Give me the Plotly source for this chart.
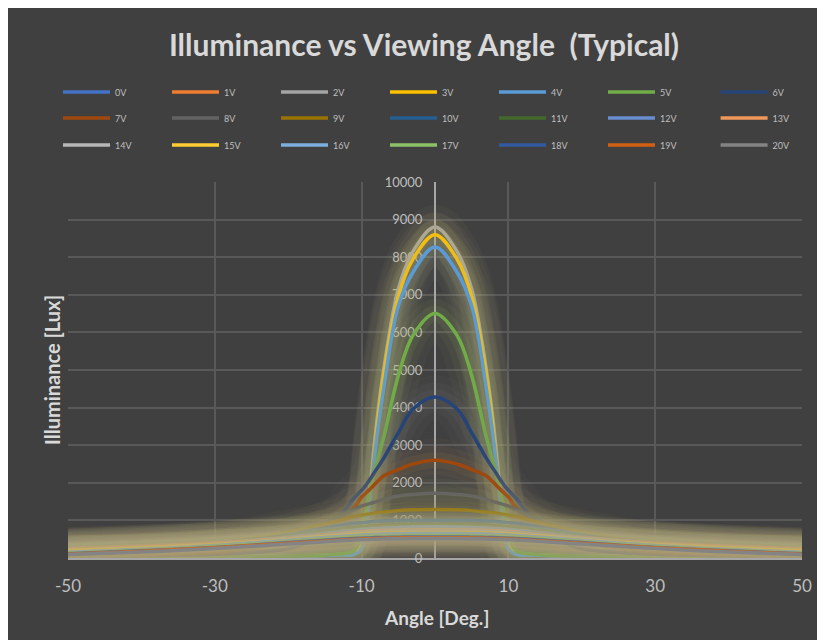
import plotly.graph_objects as go

# ---------------- data ----------------
angles = [-50, -40, -30, -25, -20, -16, -13, -11, -10, -9, -8, -7, -5, -3, 0,
          3, 5, 7, 8, 9, 10, 11, 13, 16, 20, 25, 30, 40, 50]

series_names = ["0V", "1V", "2V", "3V", "4V", "5V", "6V", "7V", "8V", "9V", "10V",
                "11V", "12V", "13V", "14V", "15V", "16V", "17V", "18V", "19V", "20V"]

v0 = [150, 220, 310, 370, 430, 480, 510, 530, 538, 545, 549, 552, 556, 558, 560, 558, 556, 552, 549, 545, 538, 530, 510, 480, 430, 370, 310, 220, 150]
v1 = [200, 270, 360, 420, 480, 530, 560, 580, 588, 595, 599, 602, 607, 610, 610, 610, 607, 602, 599, 595, 588, 580, 560, 530, 480, 420, 360, 270, 200]
v2 = [30, 30, 40, 45, 55, 70, 90, 120, 350, 1650, 3500, 5000, 7150, 8150, 8800, 8150, 7150, 5000, 3500, 1650, 350, 120, 90, 70, 55, 45, 40, 30, 30]
v3 = [30, 30, 35, 40, 50, 65, 85, 110, 300, 1500, 3300, 4850, 6950, 7950, 8600, 7950, 6950, 4850, 3300, 1500, 300, 110, 85, 65, 50, 40, 35, 30, 30]
v4 = [25, 30, 35, 40, 50, 60, 80, 100, 250, 1400, 3100, 4500, 6700, 7600, 8270, 7600, 6700, 4500, 3100, 1400, 250, 100, 80, 60, 50, 40, 35, 30, 25]
v5 = [25, 30, 35, 40, 50, 70, 110, 200, 700, 1700, 2500, 3200, 4850, 5920, 6500, 5920, 4850, 3200, 2500, 1700, 700, 200, 110, 70, 50, 40, 35, 30, 25]
v6 = [40, 60, 100, 150, 250, 550, 1100, 1600, 1800, 2050, 2350, 2650, 3330, 3960, 4280, 3960, 3330, 2650, 2350, 2050, 1800, 1600, 1100, 550, 250, 150, 100, 60, 40]
v7 = [50, 80, 150, 250, 450, 750, 1050, 1350, 1620, 1800, 2000, 2180, 2350, 2500, 2600, 2500, 2350, 2180, 2000, 1800, 1620, 1350, 1050, 750, 450, 250, 150, 80, 50]
v8 = [100, 150, 280, 400, 600, 850, 1100, 1300, 1380, 1440, 1500, 1560, 1650, 1690, 1720, 1690, 1650, 1560, 1500, 1440, 1380, 1300, 1100, 850, 600, 400, 280, 150, 100]
v9 = [120, 200, 380, 520, 700, 860, 1000, 1100, 1140, 1170, 1200, 1220, 1260, 1280, 1290, 1280, 1260, 1220, 1200, 1170, 1140, 1100, 1000, 860, 700, 520, 380, 200, 120]
v10 = [170, 250, 380, 480, 620, 760, 860, 920, 940, 960, 975, 985, 995, 1000, 1000, 1000, 995, 985, 975, 960, 940, 920, 860, 760, 620, 480, 380, 250, 170]
v11 = [200, 280, 400, 480, 580, 680, 760, 810, 830, 850, 860, 870, 890, 900, 900, 900, 890, 870, 860, 850, 830, 810, 760, 680, 580, 480, 400, 280, 200]
v12 = [220, 300, 400, 470, 560, 640, 700, 740, 755, 770, 785, 795, 810, 825, 830, 825, 810, 795, 785, 770, 755, 740, 700, 640, 560, 470, 400, 300, 220]
v13 = [240, 310, 400, 460, 530, 600, 650, 690, 705, 715, 725, 730, 740, 748, 750, 748, 740, 730, 725, 715, 705, 690, 650, 600, 530, 460, 400, 310, 240]
v14 = [180, 260, 360, 430, 510, 580, 630, 670, 680, 690, 698, 705, 715, 720, 720, 720, 715, 705, 698, 690, 680, 670, 630, 580, 510, 430, 360, 260, 180]
v15 = [200, 270, 360, 420, 490, 560, 600, 630, 645, 655, 663, 670, 678, 680, 680, 680, 678, 670, 663, 655, 645, 630, 600, 560, 490, 420, 360, 270, 200]
v16 = [150, 230, 330, 400, 470, 530, 570, 600, 610, 620, 628, 635, 645, 650, 650, 650, 645, 635, 628, 620, 610, 600, 570, 530, 470, 400, 330, 230, 150]
v17 = [130, 210, 310, 370, 440, 500, 540, 565, 573, 580, 585, 590, 597, 600, 600, 600, 597, 590, 585, 580, 573, 565, 540, 500, 440, 370, 310, 210, 130]
v18 = [110, 190, 280, 340, 410, 460, 500, 520, 528, 535, 542, 548, 555, 560, 560, 560, 555, 548, 542, 535, 528, 520, 500, 460, 410, 340, 280, 190, 110]
v19 = [100, 180, 270, 330, 390, 440, 475, 500, 508, 515, 520, 525, 535, 540, 540, 540, 535, 525, 520, 515, 508, 500, 475, 440, 390, 330, 270, 180, 100]
v20 = [90, 160, 250, 310, 370, 420, 460, 480, 488, 495, 500, 505, 513, 518, 520, 518, 513, 505, 500, 495, 488, 480, 460, 420, 370, 310, 250, 160, 90]

series_values = [v0, v1, v2, v3, v4, v5, v6, v7, v8, v9, v10,
                 v11, v12, v13, v14, v15, v16, v17, v18, v19, v20]

x_tick_vals = [-50, -30, -10, 10, 30, 50]
x_tick_text = ["-50", "-30", "-10", "10", "30", "50"]

# ---------------- style ----------------
colors = ["#4472C4", "#ED7D31", "#A5A5A5", "#FFC000", "#5B9BD5", "#70AD47",
          "#264478", "#9E480E", "#636363", "#997300", "#255E91", "#43682B",
          "#698ED0", "#F1975A", "#B7B7B7", "#FFCD33", "#7CAFDD", "#8CC168",
          "#335AA1", "#D26012", "#848484"]

BG = "#404040"
GRID = "#595959"
TXT = "#bfbfbf"
FONT = "Lato"
W, H = 825, 640
ML, MR, MT, MB = 60, 31, 174, 90
PW, PH = W - ML - MR, H - MT - MB
SMOOTH = 1.0


def hex_rgb(h):
    h = h.lstrip("#")
    return tuple(int(h[i:i + 2], 16) for i in (0, 2, 4))


def glow_rgba(h, a):
    r, g, b = hex_rgb(h)
    tan = (205, 195, 140)
    r = int(r * 0.45 + tan[0] * 0.55)
    g = int(g * 0.45 + tan[1] * 0.55)
    b = int(b * 0.45 + tan[2] * 0.55)
    return f"rgba({r},{g},{b},{a})"


def px_to_paper_x(px):
    return (px - ML) / PW


def px_to_paper_y(py):
    return (H - MB - py) / PH


fig = go.Figure()

# legend ids: per row, columns 0-5 in one legend, column 6 in another
row_ids = [("legend", "legend2"), ("legend3", "legend4"), ("legend5", "legend6")]


def legend_for(i):
    r, c = divmod(i, 7)
    return row_ids[r][0] if c < 6 else row_ids[r][1]


for i, (name, vals, col) in enumerate(zip(series_names, series_values, colors)):
    for wdt, a in [(44, 0.045), (29, 0.065), (16, 0.09)]:
        fig.add_trace(go.Scatter(
            x=angles, y=vals, mode="lines",
            line=dict(color=glow_rgba(col, a), width=wdt, shape="spline", smoothing=SMOOTH),
            showlegend=False, hoverinfo="skip"))
    fig.add_trace(go.Scatter(
        x=angles, y=vals, mode="lines", name=name,
        line=dict(color=col, width=3.5, shape="spline", smoothing=SMOOTH),
        legend=legend_for(i)))

legend_rows_y = [84, 110, 137]
LEG_X0 = 50
LEG_PITCH = 109.6
leg_common = dict(orientation="h", entrywidth=47, entrywidthmode="pixels",
                  font=dict(family=FONT, size=9, color=TXT),
                  bgcolor="rgba(0,0,0,0)", xref="container", yref="container",
                  xanchor="left", yanchor="middle", itemwidth=47,
                  tracegroupgap=0)

layout_legends = {}
for k, (la, lb) in enumerate(row_ids):
    layout_legends[la] = dict(x=LEG_X0 / W, y=1 - legend_rows_y[k] / H, **leg_common)
    layout_legends[lb] = dict(x=(LEG_X0 + 6 * LEG_PITCH) / W, y=1 - legend_rows_y[k] / H,
                              **leg_common)

fig.update_layout(
    width=W, height=H, autosize=False,
    margin=dict(l=ML, r=MR, t=MT, b=MB, pad=0),
    paper_bgcolor=BG, plot_bgcolor=BG,
    font=dict(family=FONT, color=TXT),
    title=dict(text="<b>Illuminance vs Viewing Angle\u00a0 (Typical)</b>",
               font=dict(family=FONT, size=30, color="#d9d9d9"),
               x=416 / W, xanchor="center", xref="container",
               y=1 - 37 / H, yanchor="middle", yref="container"),
    xaxis=dict(range=[-50, 50], tickvals=x_tick_vals, ticktext=x_tick_text,
               showgrid=True, gridcolor=GRID, gridwidth=1.5, zeroline=False,
               showline=True, linecolor="#a6a6a6", linewidth=2, ticks="",
               tickfont=dict(family=FONT, size=17, color=TXT),
               ticklabelstandoff=12, layer="below traces", fixedrange=True),
    yaxis=dict(range=[0, 10000], dtick=1000, tickformat="d", anchor="free", position=0.5,
               showgrid=True, gridcolor=GRID, gridwidth=1.5, zeroline=False,
               showline=True, linecolor="#a6a6a6", linewidth=2, ticks="",
               tickfont=dict(family=FONT, size=13, color=TXT),
               ticklabelstandoff=9, layer="below traces", fixedrange=True),
    showlegend=True,
    annotations=[
        dict(text="<b>Illuminance [Lux]</b>", textangle=-90,
             x=px_to_paper_x(44), y=px_to_paper_y(362), xref="paper", yref="paper",
             xanchor="center", yanchor="middle", showarrow=False,
             font=dict(family=FONT, size=20, color="#d9d9d9")),
        dict(text="<b>Angle [Deg.]</b>",
             x=px_to_paper_x(428), y=px_to_paper_y(609), xref="paper", yref="paper",
             xanchor="center", yanchor="middle", showarrow=False,
             font=dict(family=FONT, size=19, color="#d9d9d9")),
    ],
    **layout_legends,
)

fig.write_html("out.html")
